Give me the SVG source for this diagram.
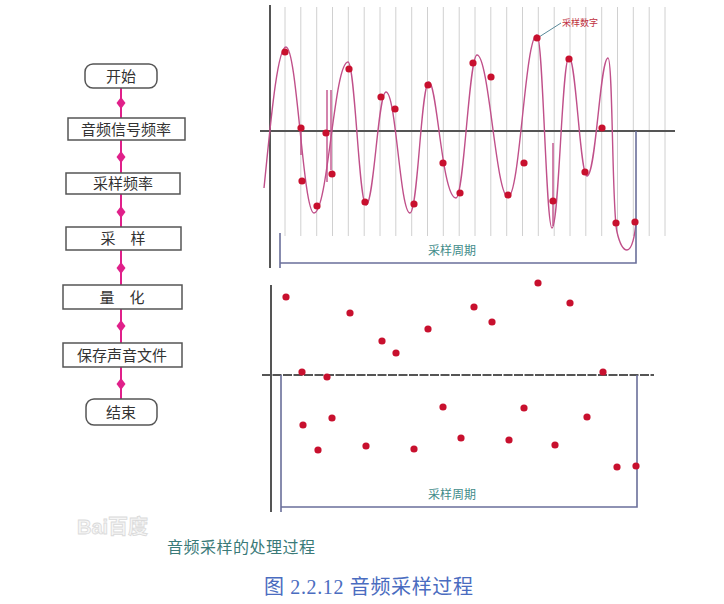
<svg xmlns="http://www.w3.org/2000/svg" xmlns:xlink="http://www.w3.org/1999/xlink" width="724" height="604" viewBox="0 0 724 604">
<style>
.box{fill:#fff;stroke:#555;stroke-width:1.5}
.ft{font-family:"Noto Sans CJK SC","Liberation Sans",sans-serif;font-size:15px;fill:#333;text-anchor:middle}
.conn{stroke:#e0208a;stroke-width:2;fill:none}
.dia{fill:#e0208a}
.grid{stroke:#d0d0d0;stroke-width:1}
.axis{stroke:#555;stroke-width:2;fill:none}
.brk{stroke:#6a6f9a;stroke-width:1.6;fill:none}
.dot{fill:#c8102e}
.lbl{font-family:"Noto Sans CJK SC",sans-serif;font-size:12px;fill:#3f8c8a;text-anchor:middle}
.wave{stroke:#c0508a;stroke-width:1.4;fill:none}
</style>
<defs>
<path id="dm" d="M0,-6 L4.5,0 L0,6 L-4.5,0 Z" class="dia"/>
</defs>
<rect width="724" height="604" fill="#fff"/>

<g id="connectors">
<line class="conn" x1="121" y1="88" x2="121" y2="118"/><use xlink:href="#dm" x="121" y="103"/>
<line class="conn" x1="121" y1="140" x2="121" y2="173"/><use xlink:href="#dm" x="121" y="157"/>
<line class="conn" x1="121" y1="194" x2="121" y2="227"/><use xlink:href="#dm" x="121" y="212"/>
<line class="conn" x1="121" y1="250" x2="121" y2="285"/><use xlink:href="#dm" x="121" y="268"/>
<line class="conn" x1="121" y1="309" x2="121" y2="343"/><use xlink:href="#dm" x="121" y="326"/>
<line class="conn" x1="121" y1="367" x2="121" y2="399"/><use xlink:href="#dm" x="121" y="384"/>
</g>

<g id="start"><rect class="box" x="85" y="64" width="72" height="24" rx="8"/><text class="ft" x="121" y="82">开始</text></g>
<g id="signal-freq"><rect class="box" x="68" y="118" width="117" height="22"/><text class="ft" x="126" y="135">音频信号频率</text></g>
<g id="sample-freq"><rect class="box" x="66" y="173" width="114" height="21"/><text class="ft" x="123" y="189">采样频率</text></g>
<g id="sample"><rect class="box" x="66" y="227" width="115" height="23"/><text class="ft" x="123" y="244">采　样</text></g>
<g id="quantize"><rect class="box" x="63" y="285" width="119" height="24"/><text class="ft" x="122" y="303">量　化</text></g>
<g id="save"><rect class="box" x="63" y="343" width="119" height="24"/><text class="ft" x="122" y="361">保存声音文件</text></g>
<g id="end"><rect class="box" x="86" y="399" width="71" height="26" rx="8"/><text class="ft" x="121" y="418">结束</text></g>

<g id="top-panel">
<g class="grid">
<line x1="285" y1="7" x2="285" y2="236"/><line x1="300.8" y1="7" x2="300.8" y2="236"/><line x1="316.7" y1="7" x2="316.7" y2="236"/><line x1="332.5" y1="7" x2="332.5" y2="236"/><line x1="348.3" y1="7" x2="348.3" y2="236"/>
<line x1="364.2" y1="7" x2="364.2" y2="236"/><line x1="380" y1="7" x2="380" y2="236"/><line x1="395.8" y1="7" x2="395.8" y2="236"/><line x1="411.7" y1="7" x2="411.7" y2="236"/><line x1="427.5" y1="7" x2="427.5" y2="236"/>
<line x1="443.3" y1="7" x2="443.3" y2="236"/><line x1="459.2" y1="7" x2="459.2" y2="236"/><line x1="475" y1="7" x2="475" y2="236"/><line x1="490.8" y1="7" x2="490.8" y2="236"/><line x1="506.7" y1="7" x2="506.7" y2="236"/>
<line x1="522.5" y1="7" x2="522.5" y2="236"/><line x1="538.3" y1="7" x2="538.3" y2="236"/><line x1="554.2" y1="7" x2="554.2" y2="236"/><line x1="570" y1="7" x2="570" y2="236"/><line x1="585.8" y1="7" x2="585.8" y2="236"/>
<line x1="601.7" y1="7" x2="601.7" y2="236"/><line x1="617.5" y1="7" x2="617.5" y2="236"/><line x1="633.3" y1="7" x2="633.3" y2="236"/><line x1="649.2" y1="7" x2="649.2" y2="236"/><line x1="665" y1="7" x2="665" y2="236"/>
</g>
<line class="axis" x1="270" y1="5" x2="270" y2="268"/>
<line class="axis" x1="260" y1="131" x2="675" y2="131" stroke-width="1.6"/>
<path class="wave" d="M264,188 C270,130 277,47 286,47 C297,47 303,213 314,213 C328,213 334,62 348,62 C355,62 359,205 366,205 C374,205 378,92 386,92 C396,92 400,213 410,213 C418,213 421,82 429,82 C437,82 442,198 456,198 C464,198 469,55 477,55 C489,55 496,197 508,197 C520,197 525,35 537,35 C543,35 546,228 552,228 C559,228 562,57 569,57 C576,57 580,176 587,176 C596,176 600,58 608,58 C613,58 612,215 617,232 C620,245 624,250 627,250 C632,250 635,235 636,222"/>
<g class="wave" stroke-width="1.8">
<line x1="301" y1="128" x2="301" y2="155"/>
<line x1="327" y1="90" x2="327" y2="182"/>
<line x1="331" y1="90" x2="331" y2="170"/>
<line x1="553" y1="143" x2="553" y2="226"/>
</g>
<path class="brk" d="M280,233 V268 M280,263 H636 V131"/>
<text class="lbl" x="452" y="255">采样周期</text>
<line x1="539" y1="37" x2="561" y2="23" stroke="#5a8a9a" stroke-width="1"/>
<text x="562" y="26" font-family="Noto Sans CJK SC,sans-serif" font-size="9" fill="#c03040">采样数字</text>
<g class="dot">
<circle cx="285" cy="52" r="3.6"/><circle cx="301" cy="128" r="3.6"/><circle cx="302" cy="181" r="3.6"/><circle cx="317" cy="206" r="3.6"/><circle cx="326" cy="133" r="3.6"/>
<circle cx="332" cy="174" r="3.6"/><circle cx="349" cy="69" r="3.6"/><circle cx="365" cy="202" r="3.6"/><circle cx="381" cy="97" r="3.6"/><circle cx="395" cy="109" r="3.6"/>
<circle cx="414" cy="204" r="3.6"/><circle cx="428" cy="85" r="3.6"/><circle cx="443" cy="163" r="3.6"/><circle cx="460" cy="193" r="3.6"/><circle cx="473" cy="63" r="3.6"/>
<circle cx="491" cy="77" r="3.6"/><circle cx="508" cy="195" r="3.6"/><circle cx="524" cy="163" r="3.6"/><circle cx="537" cy="38" r="3.6"/><circle cx="553" cy="201" r="3.6"/>
<circle cx="569" cy="59" r="3.6"/><circle cx="585" cy="172" r="3.6"/><circle cx="602" cy="128" r="3.6"/><circle cx="616" cy="223" r="3.6"/><circle cx="635" cy="222" r="3.6"/>
</g>
</g>

<g id="bottom-panel">
<line class="axis" x1="271" y1="285" x2="271" y2="512"/>
<line class="axis" x1="262" y1="375" x2="654" y2="375" stroke-width="1.6" stroke-dasharray="9 1.5"/>
<path class="brk" d="M281,375 V512 M281,507 H637 V375"/>
<text class="lbl" x="452" y="499">采样周期</text>
<g class="dot">
<circle cx="286" cy="297" r="3.6"/><circle cx="302" cy="372" r="3.6"/><circle cx="303" cy="425" r="3.6"/><circle cx="318" cy="450" r="3.6"/><circle cx="327" cy="377" r="3.6"/>
<circle cx="332" cy="418" r="3.6"/><circle cx="350" cy="313" r="3.6"/><circle cx="366" cy="446" r="3.6"/><circle cx="382" cy="341" r="3.6"/><circle cx="396" cy="353" r="3.6"/>
<circle cx="414" cy="449" r="3.6"/><circle cx="428" cy="329" r="3.6"/><circle cx="443" cy="407" r="3.6"/><circle cx="461" cy="438" r="3.6"/><circle cx="474" cy="307" r="3.6"/>
<circle cx="492" cy="322" r="3.6"/><circle cx="509" cy="440" r="3.6"/><circle cx="524" cy="408" r="3.6"/><circle cx="538" cy="283" r="3.6"/><circle cx="555" cy="445" r="3.6"/>
<circle cx="570" cy="303" r="3.6"/><circle cx="587" cy="417" r="3.6"/><circle cx="603" cy="372" r="3.6"/><circle cx="617" cy="467" r="3.6"/><circle cx="636" cy="466" r="3.6"/>
</g>
</g>

<text x="77" y="534" font-family="Liberation Sans,Noto Sans CJK SC,sans-serif" font-size="20" font-weight="bold" fill="#f6f6f6" stroke="#dadada" stroke-width="0.8">Bai百度</text>
<text x="167" y="553" font-family="Noto Sans CJK SC,sans-serif" font-size="16" fill="#3a7a78" textLength="148" lengthAdjust="spacing">音频采样的处理过程</text>
<text x="264" y="594" font-family="Liberation Serif,Noto Sans CJK SC,serif" font-size="20" fill="#4a6cc0" textLength="209" lengthAdjust="spacing">图 2.2.12 音频采样过程</text>
</svg>
